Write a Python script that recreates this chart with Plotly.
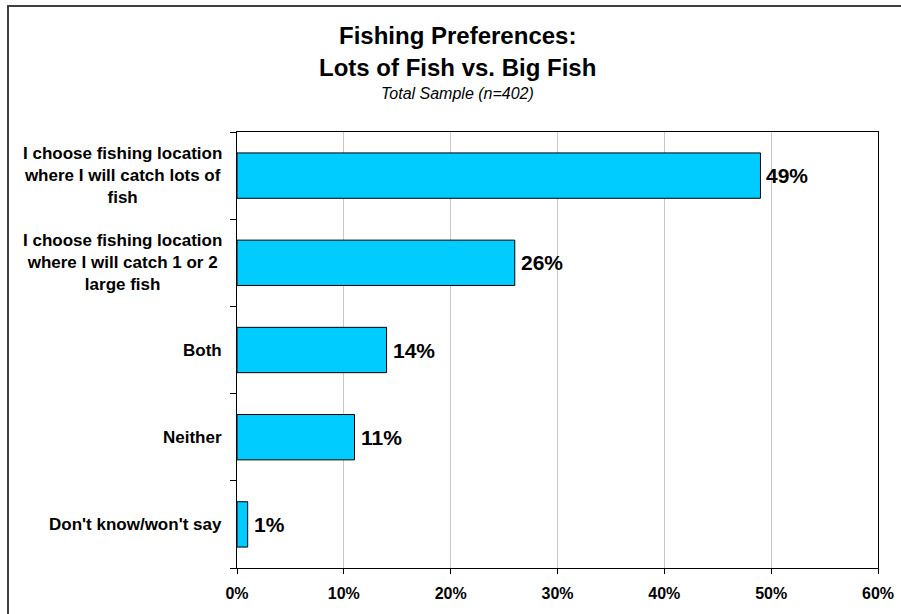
import plotly.graph_objects as go

categories = [
    "I choose fishing location<br>where I will catch lots of<br>fish",
    "I choose fishing location<br>where I will catch 1 or 2<br>large fish",
    "Both",
    "Neither",
    "Don't know/won't say",
]
values = [49, 26, 14, 11, 1]
tick_values = [0, 10, 20, 30, 40, 50, 60]
tick_labels = ["0%", "10%", "20%", "30%", "40%", "50%", "60%"]
title_line1 = "Fishing Preferences:"
title_line2 = "Lots of Fish vs. Big Fish"
subtitle = "Total Sample (n=402)"

W, H = 901, 614
L, R, T, B = 237, 23, 132, 46
PW, PH = W - L - R, H - T - B

def px_x(px):
    return (px - L) / PW

def px_y(py):
    return (H - B - py) / PH

FONT = "Liberation Sans, Arial, Helvetica, sans-serif"
ids = list(range(len(categories)))

fig = go.Figure()
fig.add_trace(go.Bar(
    x=values,
    y=ids,
    orientation="h",
    width=0.52,
    marker=dict(color="#00CCFF", line=dict(color="#000000", width=1)),
    hoverinfo="skip",
    cliponaxis=False,
))

annotations = []
# category labels
for i, c in zip(ids, categories):
    annotations.append(dict(
        x=0, xref="paper", y=i, yref="y", text=c, showarrow=False,
        xanchor="right", yanchor="middle", align="center", xshift=-13,
        font=dict(family=FONT, size=17, color="#000000", weight="bold"),
    ))
# value labels
for i, v in zip(ids, values):
    annotations.append(dict(
        x=v, xref="x", y=i, yref="y", text=f"{v}%", showarrow=False,
        xanchor="left", yanchor="middle", xshift=4,
        font=dict(family=FONT, size=21, color="#000000", weight="bold"),
    ))
# titles
annotations.append(dict(
    x=px_x(457), xref="paper", y=px_y(35), yref="paper", text=title_line1,
    showarrow=False, xanchor="center", yanchor="middle",
    font=dict(family=FONT, size=24, color="#000000", weight="bold"),
))
annotations.append(dict(
    x=px_x(457), xref="paper", y=px_y(67), yref="paper", text=title_line2,
    showarrow=False, xanchor="center", yanchor="middle",
    font=dict(family=FONT, size=24, color="#000000", weight="bold"),
))
annotations.append(dict(
    x=px_x(457), xref="paper", y=px_y(93), yref="paper", text=subtitle,
    showarrow=False, xanchor="center", yanchor="middle",
    font=dict(family=FONT, size=16, color="#000000", style="italic"),
))

shapes = [dict(
    type="rect", xref="paper", yref="paper",
    x0=px_x(8), x1=px_x(906), y0=px_y(630), y1=px_y(6),
    line=dict(color="#404040", width=2), fillcolor="rgba(0,0,0,0)", layer="above",
)]

fig.update_layout(
    width=W, height=H,
    margin=dict(l=L, r=R, t=T, b=B, autoexpand=False),
    paper_bgcolor="#FFFFFF", plot_bgcolor="#FFFFFF",
    showlegend=False,
    annotations=annotations,
    shapes=shapes,
    bargap=0.48,
)
fig.update_xaxes(
    range=[0, 60], tickvals=tick_values, ticktext=tick_labels,
    showgrid=True, gridcolor="#C8C8C8", gridwidth=1,
    showline=True, linecolor="#000000", linewidth=1, mirror=True,
    ticks="outside", ticklen=5, tickcolor="#000000", tickwidth=1,
    tickfont=dict(family=FONT, size=16, color="#000000", weight="bold"),
    ticklabelstandoff=6,
    zeroline=False, fixedrange=True,
)
fig.update_yaxes(
    range=[4.5, -0.5], tickvals=[i + 0.5 for i in [-1] + ids], ticktext=[""] * (len(ids) + 1),
    showgrid=False, zeroline=False,
    showline=True, linecolor="#000000", linewidth=1, mirror=True,
    ticks="outside", ticklen=6, tickcolor="#000000", tickwidth=1,
    fixedrange=True,
)

fig.write_html(
    "out.html",
    config={"displayModeBar": False, "staticPlot": True},
    post_script="document.body.style.margin='0';document.body.style.overflow='hidden';",
)
